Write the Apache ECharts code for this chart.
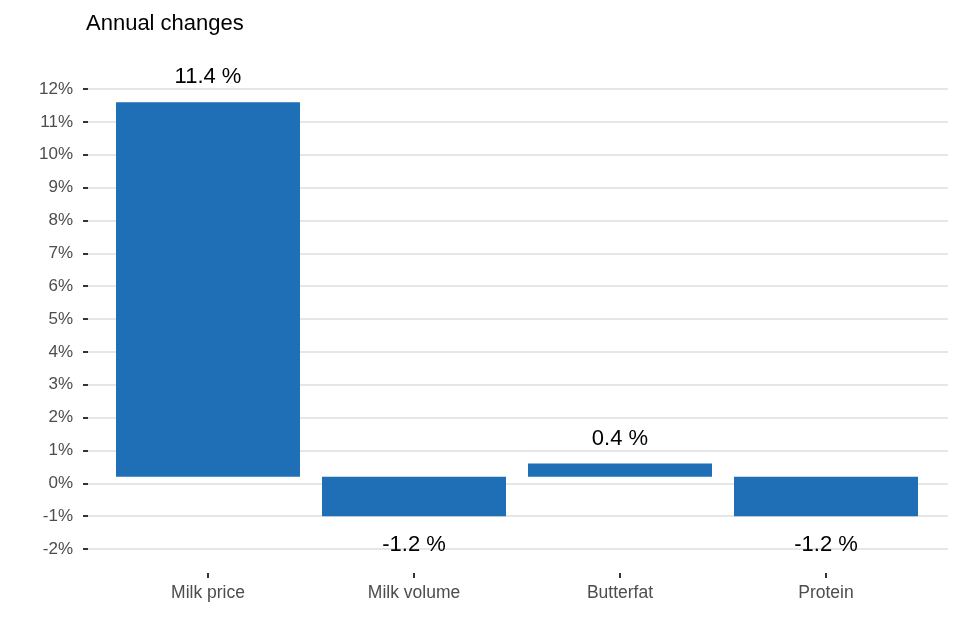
<!DOCTYPE html>
<html>
<head>
<meta charset="utf-8">
<script src="https://cdn.jsdelivr.net/npm/echarts@6/dist/echarts.min.js"></script>
<style>
html,body{margin:0;padding:0;background:#fff;}
#chart{width:960px;height:640px;}
</style>
</head>
<body>
<div id="chart"></div>
<script>
const categories = ['Milk price', 'Milk volume', 'Butterfat', 'Protein'];
const changes = [11.4, -1.2, 0.4, -1.2];
const baseOffset = 0.2;
const yMin = -2;
const yMax = 12;
const yStep = 1;
const titleText = 'Annual changes';

const FONT = '"Liberation Sans", Arial, sans-serif';
const chart = echarts.init(document.getElementById('chart'));

const baseData = categories.map(() => baseOffset);
const valueData = changes.map(v => ({
  value: v,
  label: { position: v >= 0 ? 'top' : 'bottom', distance: v >= 0 ? 14 : 18 }
}));

chart.setOption({
  animation: false,
  backgroundColor: '#ffffff',
  title: {
    text: titleText,
    left: 81,
    top: 8,
    textStyle: { fontFamily: FONT, fontSize: 22, fontWeight: 'normal', color: '#000000' }
  },
  grid: [
    { left: 88, right: 12, top: 89, bottom: 91 },
    { left: 105, right: 31, top: 89, bottom: 91 }
  ],
  xAxis: [
    { gridIndex: 0, type: 'value', min: 0, max: 1, show: false },
    {
      gridIndex: 1,
      type: 'category',
      data: categories,
      offset: 24,
      axisLine: { show: false, onZero: false },
      axisTick: { show: true, alignWithLabel: true, length: 5, lineStyle: { color: '#333333', width: 2 } },
      axisLabel: { margin: 11, fontFamily: FONT, fontSize: 17.5, color: '#4d4d4d' },
      splitLine: { show: false }
    }
  ],
  yAxis: [
    {
      gridIndex: 0,
      type: 'value',
      min: yMin,
      max: yMax,
      interval: yStep,
      offset: 3,
      axisLine: { show: false },
      axisTick: { show: true, length: 5, lineStyle: { color: '#333333', width: 2 } },
      axisLabel: { margin: 12, formatter: '{value}%', fontFamily: FONT, fontSize: 17, color: '#4d4d4d' },
      splitLine: { show: true, lineStyle: { color: '#e6e6e6', width: 2 } }
    },
    {
      gridIndex: 1,
      type: 'value',
      min: yMin,
      max: yMax,
      interval: yStep,
      show: false,
      splitLine: { show: false }
    }
  ],
  series: [
    {
      type: 'line',
      xAxisIndex: 0,
      yAxisIndex: 0,
      data: [],
      silent: true
    },
    {
      name: 'base',
      type: 'bar',
      xAxisIndex: 1,
      yAxisIndex: 1,
      stack: 'total',
      stackStrategy: 'all',
      data: baseData,
      barWidth: 184,
      itemStyle: { color: 'rgba(0,0,0,0)' },
      silent: true,
      label: { show: false }
    },
    {
      name: 'change',
      type: 'bar',
      xAxisIndex: 1,
      yAxisIndex: 1,
      stack: 'total',
      stackStrategy: 'all',
      data: valueData,
      barWidth: 184,
      itemStyle: { color: '#1f6fb6' },
      label: {
        show: true,
        fontFamily: FONT,
        fontSize: 22,
        color: '#000000',
        formatter: p => p.value.toFixed(1) + ' %'
      }
    }
  ]
});
</script>
</body>
</html>
